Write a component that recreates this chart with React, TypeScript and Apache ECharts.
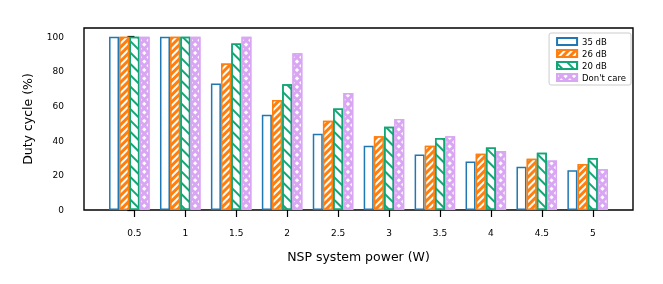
import React, { useEffect, useRef } from "react";
import * as echarts from "echarts";

const xLabels = ["0.5", "1", "1.5", "2", "2.5", "3", "3.5", "4", "4.5", "5"];
const seriesNames = ["35 dB", "26 dB", "20 dB", "Don't care"];
const db35 = [100, 100, 73, 55, 44, 37, 32, 28, 25, 23];
const db26 = [100, 100, 84.5, 63.5, 51.5, 42.5, 37, 32.5, 29.5, 26.5];
const db20 = [100, 100, 96, 72.5, 58.5, 48, 41.5, 36, 33, 30];
const dontCare = [100, 100, 100, 90.5, 67.5, 52.5, 42.5, 34, 28.5, 23.5];
const yTicks = [0, 20, 40, 60, 80, 100];

const seriesValues = [db35, db26, db20, dontCare];
const offsets = [-0.4, -0.2, 0, 0.2];
const colors = ["#1f77b4", "#ff7f0e", "#12a676", "#d9a6f3"];

export default function App() {
  const ref = useRef<HTMLDivElement>(null);
  useEffect(() => {
    if (!ref.current) return;
    const chart = echarts.init(ref.current, null, { renderer: "svg" });
    const font = "DejaVu Sans";
    const decals: any[] = [
      null,
      {
        symbol: "rect",
        symbolSize: 1,
        color: "#ffffff",
        dashArrayX: [1, 0],
        dashArrayY: [1.5, 2.5],
        rotation: -Math.PI / 4,
      },
      {
        symbol: "rect",
        symbolSize: 1,
        color: colors[2],
        dashArrayX: [1, 0],
        dashArrayY: [1.6, 6],
        rotation: Math.PI / 4,
      },
      {
        symbol: "rect",
        symbolSize: 1,
        color: "#ffffff",
        dashArrayX: [2.4, 2.4],
        dashArrayY: [2.4, 2.4],
        rotation: Math.PI / 4,
      },
    ];
    const fills = ["#ffffff", colors[1], "#ffffff", colors[3]];
    const series = seriesValues.map((vals, s) => ({
      type: "bar",
      name: seriesNames[s],
      data: vals.map((v, i) => [i + offsets[s], v]),
      barWidth: 10,
      barGap: "-100%",
      itemStyle: {
        color: fills[s],
        borderColor: colors[s],
        borderWidth: 1.5,
        ...(decals[s] ? { decal: decals[s] } : {}),
      },
    }));
    const xTickVals = xLabels.map((_, i) => i);
    chart.setOption({
      animation: false,
      textStyle: { fontFamily: font },
      grid: {
        left: 84,
        right: 30,
        top: 28,
        bottom: 74,
        show: true,
        borderColor: "#000",
        borderWidth: 1.4,
        backgroundColor: "transparent",
      },
      legend: {
        orient: "vertical",
        right: 32,
        top: 33,
        icon: "rect",
        itemWidth: 20,
        itemHeight: 7,
        itemGap: 3,
        padding: [4, 5, 3, 7],
        borderColor: "#cccccc",
        borderWidth: 1,
        borderRadius: 2,
        backgroundColor: "#ffffff",
        textStyle: { fontSize: 8.5, color: "#000", fontFamily: font },
        data: seriesNames,
      },
      xAxis: {
        type: "value",
        min: -0.99,
        max: 9.79,
        splitLine: { show: false },
        axisLine: { show: false },
        axisTick: {
          show: true,
          customValues: xTickVals,
          length: 7,
          lineStyle: { color: "#000", width: 1.2 },
        },
        axisLabel: {
          customValues: xTickVals,
          formatter: (v: number) => xLabels[Math.round(v)] ?? "",
          fontSize: 9,
          color: "#000",
          margin: 18,
          fontFamily: font,
        },
        name: "NSP system power (W)",
        nameLocation: "middle",
        nameGap: 40,
        nameTextStyle: { fontSize: 12.5, color: "#000", fontFamily: font },
      },
      yAxis: {
        type: "value",
        min: 0,
        max: 105,
        splitLine: { show: false },
        axisLine: { show: false },
        axisTick: {
          show: true,
          customValues: yTicks,
          length: 7,
          lineStyle: { color: "#000", width: 1.2 },
        },
        axisLabel: {
          customValues: yTicks,
          fontSize: 9,
          color: "#000",
          margin: 20,
          fontFamily: font,
        },
        name: "Duty cycle (%)",
        nameLocation: "middle",
        nameGap: 50,
        nameTextStyle: { fontSize: 12.5, color: "#000", fontFamily: font },
      },
      series,
    });
    return () => chart.dispose();
  }, []);
  return (
    <div
      ref={ref}
      style={{ position: "fixed", left: 0, top: 0, width: 663, height: 284 }}
    />
  );
}
